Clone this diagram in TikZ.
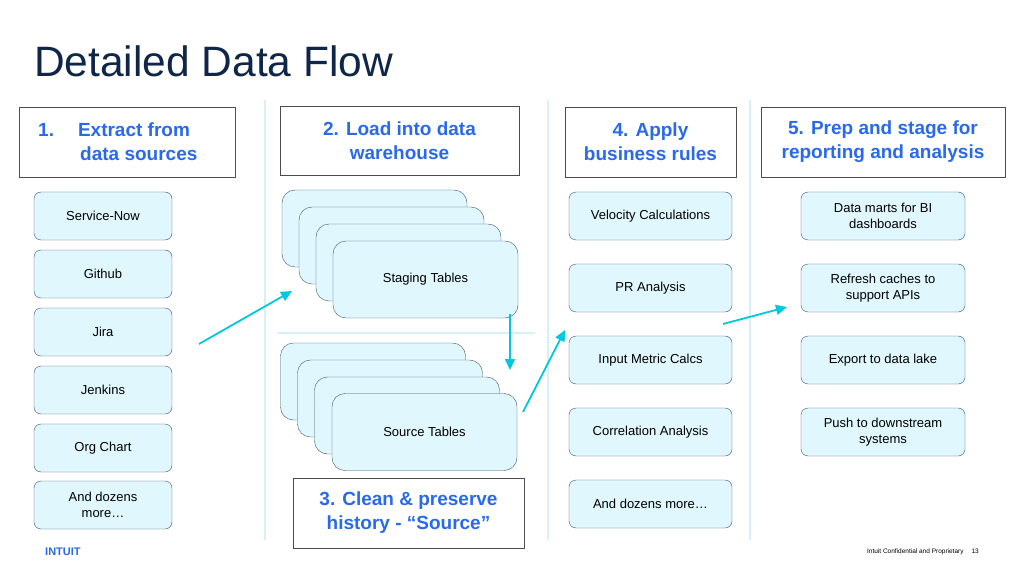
\documentclass[tikz,border=0pt]{standalone}
\usepackage{fontspec}
\setmainfont{Liberation Sans}
\usetikzlibrary{arrows.meta}
\definecolor{navy}{RGB}{16,38,72}
\definecolor{hdblue}{RGB}{41,105,235}
\definecolor{boxfill}{RGB}{224,247,253}
\definecolor{boxline}{RGB}{60,80,110}
\definecolor{arrowc}{RGB}{0,200,222}
\definecolor{sepc}{RGB}{215,240,248}
\tikzset{
  header/.style={draw=black!70, fill=white, font=\bfseries\fontsize{19}{24}\selectfont, text=hdblue, align=center, inner sep=0pt},
  item/.style={draw=boxline, fill=boxfill, rounded corners=7pt, font=\fontsize{13}{16}\selectfont, align=center, inner sep=0pt},
  table/.style={draw=boxline, fill=boxfill, rounded corners=13pt, minimum width=185pt, minimum height=77pt, font=\fontsize{13}{16}\selectfont, inner sep=0pt},
  sep/.style={sepc, line width=1.2pt},
  flow/.style={arrowc, line width=1.8pt, -{Triangle[length=11pt,width=10pt]}}
}
\begin{document}
\begin{tikzpicture}[x=1pt,y=-1pt]
  \useasboundingbox (0,0) rectangle (1024,577);
  % separators
  \draw [sep] (265,100) -- (265,540);
  \draw [sep] (548,100) -- (548,540);
  \draw [sep] (750,100) -- (750,540);
  \draw [sep] (277,333) -- (535,333);
  % title
  \node [anchor=base west, inner sep=0pt, text=navy, font=\fontsize{42.5}{48}\selectfont] (title) at (34,77) {Detailed Data Flow};
  % column 1
  \node [header, minimum width=216pt, minimum height=70pt] (h1) at (127,142) {};
  \node [anchor=west, inner sep=0pt, text=hdblue, font=\bfseries\fontsize{19}{24}\selectfont, align=left] (h1t) at (38,142) {1.\hspace{24pt}Extract from\\\hspace{42pt}data sources};
  \foreach \y/\t [count=\i] in {216/Service-Now, 274/Github, 332/Jira, 390/Jenkins, 448/Org Chart, 505/{And dozens\\more\dots}}
    \node [item, minimum width=138pt, minimum height=48pt] (src\i) at (103,\y) {\t};
  % column 2
  \node [header, minimum width=239pt, minimum height=69pt] (h2) at (399.5,140.5) {2. Load into data\\warehouse};
  \foreach \k in {0,1,2}
    \node [table] (stg\k) at (374.5+17*\k,228.5+17*\k) {};
  \node [table] (stg) at (425.5,279.5) {Staging Tables};
  \foreach \k in {0,1,2}
    \node [table] (srcb\k) at (373+17*\k,381.5+17*\k) {};
  \node [table] (srct) at (424.5,432) {Source Tables};
  \node [header, minimum width=231pt, minimum height=70pt] (h3) at (408.5,513) {3. Clean \& preserve\\history - “Source”};
  % column 4
  \node [header, minimum width=171pt, minimum height=70pt] (h4) at (650.5,142) {4. Apply\\business rules};
  \foreach \y/\t [count=\i] in {216/Velocity Calculations, 288/PR Analysis, 360/Input Metric Calcs, 432/Correlation Analysis, 504/And dozens more\dots}
    \node [item, minimum width=163pt, minimum height=48pt] (rule\i) at (650.5,\y) {\t};
  % column 5
  \node [header, minimum width=244pt, minimum height=70pt] (h5) at (883,142) {5. Prep and stage for\\reporting and analysis};
  \foreach \y/\t [count=\i] in {216/{Data marts for BI\\dashboards}, 288/{Refresh caches to\\support APIs}, 360/Export to data lake, 432/{Push to downstream\\systems}}
    \node [item, minimum width=164pt, minimum height=48pt] (out\i) at (883,\y) {\t};
  % arrows
  \coordinate (a1s) at (199,344); \coordinate (a1e) at (292,291);
  \coordinate (a2s) at (510,314); \coordinate (a2e) at (510,370);
  \coordinate (a3s) at (523,412); \coordinate (a3e) at (565,330);
  \coordinate (a4s) at (723,324); \coordinate (a4e) at (787,307);
  \draw [flow] (a1s) -- (a1e);
  \draw [flow] (a2s) -- (a2e);
  \draw [flow] (a3s) -- (a3e);
  \draw [flow] (a4s) -- (a4e);
  % footer
  \node [anchor=west, inner sep=0pt, text=hdblue, font=\bfseries\fontsize{11}{12}\selectfont] (logo) at (45,552) {INTUIT};
  \node [anchor=east, inner sep=0pt, font=\fontsize{6.5}{7}\selectfont] (conf) at (979,552) {Intuit Confidential and Proprietary\hspace{8pt}13};
\end{tikzpicture}
\end{document}
